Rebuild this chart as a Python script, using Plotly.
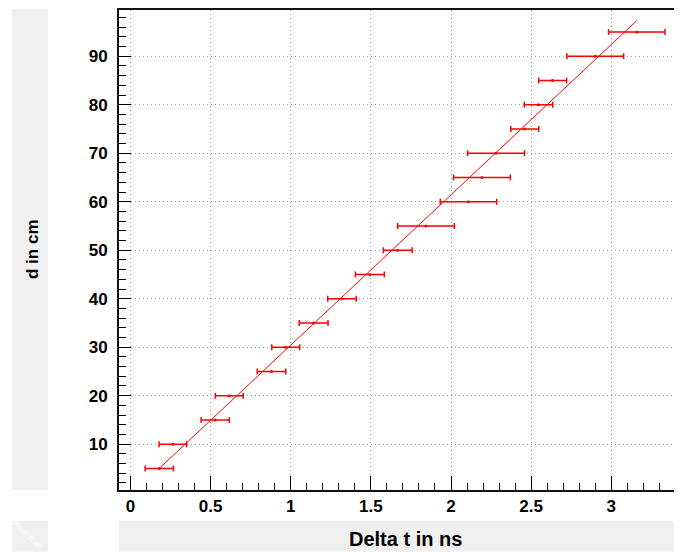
import plotly.graph_objects as go

# ---- data ----
d_cm = [5, 10, 15, 20, 25, 30, 35, 40, 45, 50, 55, 60, 65, 70, 75, 80, 85, 90, 95]
dt_ns = [0.180, 0.265, 0.529, 0.617, 0.880, 0.969, 1.143, 1.320, 1.494, 1.668,
         1.844, 2.109, 2.193, 2.281, 2.460, 2.546, 2.634, 2.900, 3.159]
dt_err = [0.088, 0.086, 0.088, 0.087, 0.089, 0.087, 0.090, 0.089, 0.090, 0.090,
          0.177, 0.176, 0.177, 0.177, 0.087, 0.089, 0.087, 0.177, 0.176]

# linear fit parameters (d = p1 * dt + p0)
fit_p1 = 31.0
fit_p0 = -0.58

x_title = "Delta t in ns"
y_title = "d in cm"
watermark = "RooFitLab"

RED = "#ff0000"
FONT = "Liberation Sans"

fit_x = [min(dt_ns), max(dt_ns)]
fit_y = [fit_p1 * v + fit_p0 for v in fit_x]

fig = go.Figure()
fig.add_trace(go.Scatter(
    x=fit_x, y=fit_y, mode="lines",
    line=dict(color=RED, width=1), hoverinfo="skip", showlegend=False))
fig.add_trace(go.Scatter(
    x=dt_ns, y=d_cm, mode="markers",
    marker=dict(color=RED, size=3),
    error_x=dict(type="data", array=dt_err, visible=True,
                 color=RED, thickness=1.5, width=3),
    showlegend=False))

# page has an 8px body margin: figure occupies page (8,8)-(682,552)
OFF = 8
W, H = 682 - OFF, 552 - OFF
# plot area in page coordinates
P_L, P_R, P_T, P_B = 119, 682, 8, 490
L = P_L - OFF
R = 682 - P_R
T = P_T - OFF
B = 552 - P_B
pw = P_R - P_L
ph = P_B - P_T


def px_x(p):  # page x -> paper
    return (p - P_L) / pw


def px_y(p):  # page y -> paper
    return (P_B - p) / ph


shapes = [
    dict(type="rect", xref="paper", yref="paper",
         x0=px_x(12), x1=px_x(48), y0=px_y(490), y1=px_y(7),
         fillcolor="#f0f0f0", line=dict(width=0), layer="below"),
    dict(type="rect", xref="paper", yref="paper",
         x0=px_x(119), x1=px_x(682), y0=px_y(552), y1=px_y(521),
         fillcolor="#f0f0f0", line=dict(width=0), layer="below"),
    dict(type="rect", xref="paper", yref="paper",
         x0=px_x(12), x1=px_x(48), y0=px_y(552), y1=px_y(521),
         fillcolor="#f0f0f0", line=dict(width=0), layer="below"),
]

annotations = [
    dict(text=y_title, xref="paper", yref="paper", x=px_x(32), y=px_y(248),
         xanchor="center", yanchor="middle",
         showarrow=False, textangle=-90,
         font=dict(family=FONT, size=17, color="black", weight="bold")),
    dict(text=x_title, xref="paper", yref="paper", x=px_x(405), y=px_y(539),
         xanchor="center", yanchor="middle", showarrow=False,
         font=dict(family=FONT, size=20, color="black", weight="bold")),
    dict(text=watermark, xref="paper", yref="paper", x=px_x(27), y=px_y(535),
         xanchor="center", yanchor="middle",
         showarrow=False, textangle=45,
         font=dict(family=FONT, size=8, color="rgba(255,255,255,0.95)")),
]

fig.update_layout(
    width=W, height=H,
    margin=dict(l=L, r=R, t=T, b=B, pad=0),
    paper_bgcolor="white", plot_bgcolor="white",
    shapes=shapes, annotations=annotations,
    font=dict(family=FONT, size=17, color="black"),
)

GRID = "#a0a0a0"
fig.update_xaxes(
    range=[-0.0711, 3.441], dtick=0.5, tick0=0,
    showline=True, linecolor="#111111", linewidth=2, mirror=True,
    ticks="inside", ticklen=14, tickwidth=1, tickcolor="black",
    showgrid=True, gridcolor=GRID, griddash="1px,3px", gridwidth=1,
    zeroline=False,
    tickfont=dict(family=FONT, size=17, color="black", weight="bold"),
    minor=dict(dtick=0.1, tick0=0, ticks="inside", ticklen=7,
               tickcolor="black", tickwidth=1, showgrid=False),
)
fig.update_yaxes(
    range=[0.554, 99.53], dtick=10, tick0=0,
    showline=True, linecolor="#111111", linewidth=2, mirror=False,
    ticks="inside", ticklen=12, tickwidth=1, tickcolor="black",
    showgrid=True, gridcolor=GRID, griddash="1px,3px", gridwidth=1,
    zeroline=False, ticklabelstandoff=6,
    tickfont=dict(family=FONT, size=17, color="black", weight="bold"),
    minor=dict(dtick=2, tick0=0, ticks="inside", ticklen=7,
               tickcolor="black", tickwidth=1, showgrid=False),
)

fig.write_html("out.html")
